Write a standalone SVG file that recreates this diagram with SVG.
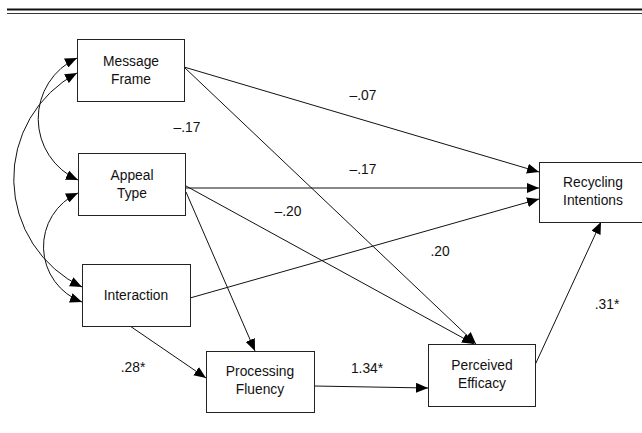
<svg xmlns="http://www.w3.org/2000/svg" width="642" height="433" viewBox="0 0 642 433">
<style>
.box{fill:#fff;stroke:#222;stroke-width:1}
.t{font-family:"Liberation Sans",Arial,sans-serif;font-size:13.8px;fill:#111;text-anchor:middle}
.c{fill:none;stroke:#111;stroke-width:1}
</style>
<defs>
<marker id="ah" viewBox="0 0 12 10" refX="12" refY="5" markerWidth="12" markerHeight="10" markerUnits="userSpaceOnUse" orient="auto-start-reverse">
<path d="M0,0 L12,5 L0,10 Z" fill="#000"/>
</marker>
</defs>
<rect width="642" height="433" fill="#fff"/>
<line x1="7" y1="9.5" x2="642" y2="9.5" stroke="#111" stroke-width="1.8"/>
<line x1="7" y1="13.5" x2="642" y2="13.5" stroke="#333" stroke-width="1"/>
<g id="connectors">
<path class="c" d="M77,58 A67,67 0 0 0 78,180" marker-start="url(#ah)" marker-end="url(#ah)"/>
<path class="c" d="M77,73 A120,120 0 0 0 82,287" marker-start="url(#ah)" marker-end="url(#ah)"/>
<path class="c" d="M78,193 A59,59 0 0 0 82,302" marker-start="url(#ah)" marker-end="url(#ah)"/>
<line class="c" x1="184" y1="67" x2="539" y2="172" marker-end="url(#ah)"/>
<line class="c" x1="184" y1="67" x2="476" y2="344" marker-end="url(#ah)"/>
<line class="c" x1="186" y1="188" x2="539" y2="188" marker-end="url(#ah)"/>
<line class="c" x1="186" y1="186" x2="474" y2="344" marker-end="url(#ah)"/>
<line class="c" x1="186" y1="192" x2="255" y2="351" marker-end="url(#ah)"/>
<line class="c" x1="190" y1="298" x2="539" y2="199" marker-end="url(#ah)"/>
<line class="c" x1="130" y1="326" x2="206" y2="378" marker-end="url(#ah)"/>
<line class="c" x1="314" y1="386" x2="428" y2="388" marker-end="url(#ah)"/>
<line class="c" x1="535" y1="365" x2="601" y2="222" marker-end="url(#ah)"/>
</g>
<g id="labels">
<text class="t" x="363" y="100">–.07</text>
<text class="t" x="187" y="132">–.17</text>
<text class="t" x="363" y="174">–.17</text>
<text class="t" x="288" y="216">–.20</text>
<text class="t" x="440" y="256">.20</text>
<text class="t" x="133" y="372">.28*</text>
<text class="t" x="367" y="373">1.34*</text>
<text class="t" x="607" y="309">.31*</text>
</g>
<g id="message-frame">
<rect class="box" x="77.5" y="39.5" width="107" height="62"/>
<text class="t" x="131" y="66">Message</text>
<text class="t" x="131" y="84">Frame</text>
</g>
<g id="appeal-type">
<rect class="box" x="78.5" y="153.5" width="107" height="62"/>
<text class="t" x="132" y="180">Appeal</text>
<text class="t" x="132" y="198">Type</text>
</g>
<g id="interaction">
<rect class="box" x="82.5" y="264.5" width="108" height="62"/>
<text class="t" x="136" y="300">Interaction</text>
</g>
<g id="processing-fluency">
<rect class="box" x="206.5" y="351.5" width="108" height="61"/>
<text class="t" x="260" y="376">Processing</text>
<text class="t" x="260" y="394">Fluency</text>
</g>
<g id="perceived-efficacy">
<rect class="box" x="428.5" y="344.5" width="107" height="62"/>
<text class="t" x="482" y="370">Perceived</text>
<text class="t" x="482" y="388">Efficacy</text>
</g>
<g id="recycling-intentions">
<rect class="box" x="539.5" y="162.5" width="108" height="60"/>
<text class="t" x="593" y="187">Recycling</text>
<text class="t" x="593" y="205">Intentions</text>
</g>
</svg>
